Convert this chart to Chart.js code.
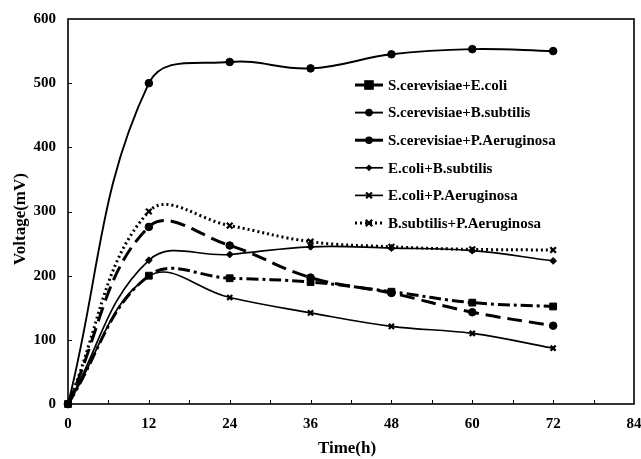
<!DOCTYPE html>
<html><head><meta charset="utf-8">
<script src="https://cdn.jsdelivr.net/npm/chart.js@4/dist/chart.umd.min.js"></script>
<style>html,body{margin:0;padding:0;background:#fff;}#wrap{width:641px;height:459px;}</style>
</head><body><div id="wrap"><canvas id="c" width="641" height="459"></canvas></div>
<script>
const hours = [0, 12, 24, 36, 48, 60, 72];
const seriesNames = ['S.cerevisiae+E.coli', 'S.cerevisiae+B.subtilis', 'S.cerevisiae+P.Aeruginosa', 'E.coli+B.subtilis', 'E.coli+P.Aeruginosa', 'B.subtilis+P.Aeruginosa'];
const scEcoli    = [0, 200, 196, 190, 175, 158, 152];
const scBsub     = [0, 500, 533, 523, 545, 553, 550];
const scPaer     = [0, 276, 247, 197, 173, 143, 122];
const ecBsub     = [0, 224, 233, 245, 243, 239, 223];
const ecPaer     = [0, 199, 166, 142, 121, 110, 87];
const bsPaer     = [0, 300, 278, 253, 245, 241, 240];
const xTickValues = [0, 12, 24, 36, 48, 60, 72, 84];
const yTickValues = [0, 100, 200, 300, 400, 500, 600];
const xTitle = 'Time(h)';
const yTitle = 'Voltage(mV)';

const FONT = "'Liberation Serif','Times New Roman',serif";
const styles = [
  {dash: [12, 4, 3, 4], width: 3, point: 'rect', r: 4.8},
  {dash: [], width: 1.9, point: 'circle', r: 3.8},
  {dash: [15, 7], width: 3, point: 'circle', r: 3.8},
  {dash: [], width: 1.7, point: 'rectRot', r: 3.4},
  {dash: [], width: 1.7, point: 'crossRot', r: 3.6},
  {dash: [2, 3], width: 3, point: 'crossRot', r: 4}
];
const values = [scEcoli, scBsub, scPaer, ecBsub, ecPaer, bsPaer];

const datasets = values.map((arr, i) => ({
  label: seriesNames[i],
  data: hours.map((h, j) => ({x: h, y: arr[j]})),
  borderColor: '#000',
  backgroundColor: '#000',
  borderWidth: styles[i].width,
  borderDash: styles[i].dash,
  pointStyle: styles[i].point,
  pointRadius: styles[i].r,
  pointBorderWidth: styles[i].point === 'crossRot' ? 2.2 : 1,
  pointBorderColor: '#000',
  pointBackgroundColor: '#000',
  tension: 0.4,
  fill: false,
  clip: false
}));

function drawMarker(ctx, style, x, y, r) {
  ctx.save();
  ctx.setLineDash([]);
  ctx.fillStyle = '#000';
  ctx.strokeStyle = '#000';
  ctx.beginPath();
  if (style === 'rect') {
    ctx.fillRect(x - r, y - r, 2 * r, 2 * r);
  } else if (style === 'circle') {
    ctx.arc(x, y, r, 0, Math.PI * 2); ctx.fill();
  } else if (style === 'rectRot') {
    ctx.moveTo(x, y - r); ctx.lineTo(x + r, y); ctx.lineTo(x, y + r); ctx.lineTo(x - r, y); ctx.closePath(); ctx.fill();
  } else if (style === 'crossRot') {
    ctx.lineWidth = 2.2;
    ctx.moveTo(x - r * 0.8, y - r * 0.8); ctx.lineTo(x + r * 0.8, y + r * 0.8);
    ctx.moveTo(x + r * 0.8, y - r * 0.8); ctx.lineTo(x - r * 0.8, y + r * 0.8);
    ctx.stroke();
  }
  ctx.restore();
}

const framePlugin = {
  id: 'frame',
  afterDraw(chart) {
    const ctx = chart.ctx, a = chart.chartArea;
    const xs = chart.scales.x, ys = chart.scales.y;
    ctx.save();
    ctx.strokeStyle = '#000';
    ctx.lineWidth = 1.6;
    ctx.setLineDash([]);
    ctx.strokeRect(a.left, a.top, a.right - a.left, a.bottom - a.top);
    ctx.lineWidth = 1;
    ctx.beginPath();
    for (let h = 6; h < 84; h += 6) {
      const px = Math.round(xs.getPixelForValue(h)) + 0.5;
      ctx.moveTo(px, a.bottom); ctx.lineTo(px, a.bottom - 4);
    }
    yTickValues.slice(1, -1).forEach(v => {
      const py = Math.round(ys.getPixelForValue(v)) + 0.5;
      ctx.moveTo(a.left, py); ctx.lineTo(a.left + 4, py);
    });
    ctx.stroke();
    // axis titles
    ctx.fillStyle = '#000';
    ctx.font = 'bold 17px ' + FONT;
    ctx.textAlign = 'center';
    ctx.textBaseline = 'middle';
    ctx.fillText(xTitle, 347, 449);
    ctx.save();
    ctx.translate(21, 219);
    ctx.rotate(-Math.PI / 2);
    ctx.fillText(yTitle, 0, 0);
    ctx.restore();
    // legend
    const lx0 = 355, lx1 = 383, tx = 388, ty0 = 85, dy = 27.6;
    ctx.font = 'bold 15px ' + FONT;
    ctx.textAlign = 'left';
    ctx.textBaseline = 'middle';
    seriesNames.forEach((name, i) => {
      const y = ty0 + i * dy;
      ctx.save();
      ctx.lineWidth = styles[i].width;
      ctx.setLineDash(i === 5 ? [2, 3] : []);
      ctx.beginPath(); ctx.moveTo(lx0, y); ctx.lineTo(lx1, y); ctx.stroke();
      ctx.restore();
      drawMarker(ctx, styles[i].point, (lx0 + lx1) / 2, y, styles[i].r);
      ctx.fillText(name, tx, y + 1);
    });
    ctx.restore();
  }
};

new Chart(document.getElementById('c'), {
  type: 'line',
  data: {datasets},
  plugins: [framePlugin],
  options: {
    responsive: false,
    animation: false,
    devicePixelRatio: 1,
    layout: {padding: {top: 19, left: 0, right: 0, bottom: 0}},
    plugins: {legend: {display: false}, tooltip: {enabled: false}},
    scales: {
      x: {
        type: 'linear', min: 0, max: 84,
        afterBuildTicks(s) { s.ticks = xTickValues.map(v => ({value: v})); },
        afterFit(s) { s.height = 55; s.paddingRight = 7; s.paddingLeft = 0; },
        grid: {display: false, drawTicks: false},
        border: {display: false},
        ticks: {color: '#000', font: {family: FONT, size: 15, weight: 'bold'}, padding: 11, maxRotation: 0},
        title: {display: false}
      },
      y: {
        type: 'linear', min: 0, max: 600,
        afterBuildTicks(s) { s.ticks = yTickValues.map(v => ({value: v})); },
        afterFit(s) { s.width = 68; s.paddingTop = 0; s.paddingBottom = 0; },
        grid: {display: false, drawTicks: false},
        border: {display: false},
        ticks: {color: '#000', font: {family: FONT, size: 15, weight: 'bold'}, padding: 12},
        title: {display: false}
      }
    }
  }
});
</script></body></html>
